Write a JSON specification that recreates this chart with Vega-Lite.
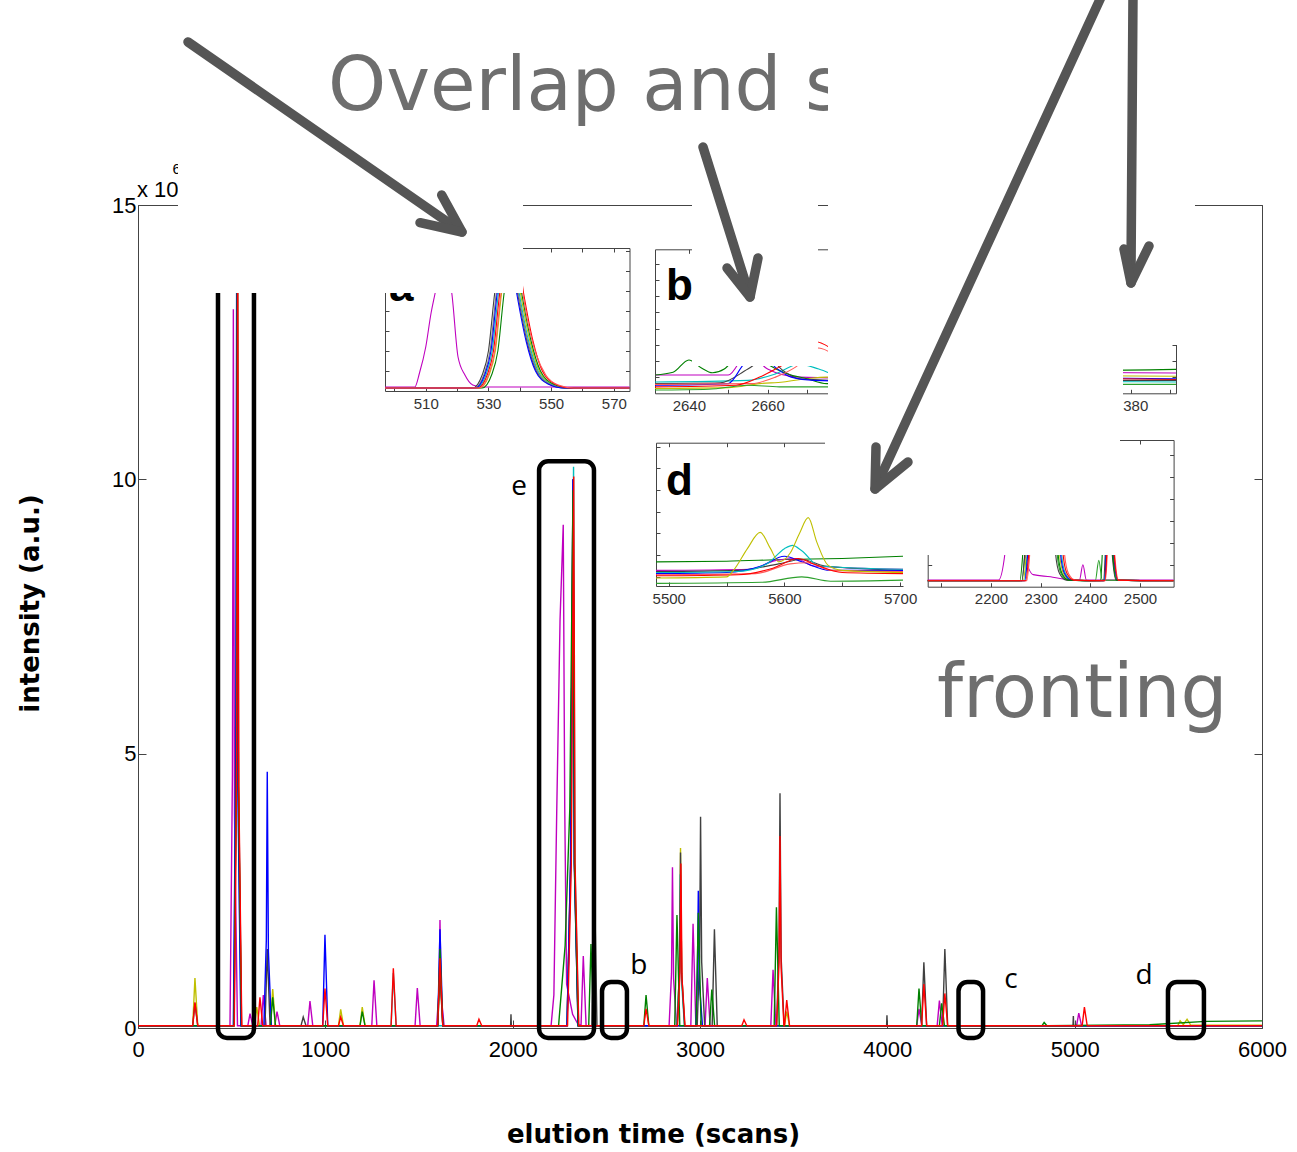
{
"$schema": "https://vega.github.io/schema/vega-lite/v6.json",
"width": 1124, "height": 823,
"autosize": {"type": "none"},
"padding": {"left": 138, "top": 205, "right": 35, "bottom": 124},
"background": "white",
"config": {"view": {"stroke": null}, "font": "Liberation Sans", "axis": {"grid": false, "labelFont": "Liberation Sans", "labelFlush": false, "labelOverlap": false}},
"datasets": {
"main": [
{"s":"m","x":0,"v":0.04},{"s":"m","x":491,"v":0.04},{"s":"m","x":504,"v":4.6},{"s":"m","x":509,"v":13.1},{"s":"m","x":515,"v":3.9},{"s":"m","x":531,"v":0.04},{"s":"m","x":586,"v":0.04},{"s":"m","x":598,"v":0.26},{"s":"m","x":613,"v":0.04},{"s":"m","x":657,"v":0.04},{"s":"m","x":669,"v":0.6},{"s":"m","x":684,"v":0.04},{"s":"m","x":730,"v":0.04},{"s":"m","x":742,"v":0.3},{"s":"m","x":757,"v":0.04},{"s":"m","x":906,"v":0.04},{"s":"m","x":918,"v":0.49},{"s":"m","x":933,"v":0.04},{"s":"m","x":1248,"v":0.04},{"s":"m","x":1260,"v":0.87},{"s":"m","x":1275,"v":0.04},{"s":"m","x":1479,"v":0.04},{"s":"m","x":1491,"v":0.73},{"s":"m","x":1506,"v":0.04},{"s":"m","x":1594,"v":0.04},{"s":"m","x":1607,"v":0.7},{"s":"m","x":1612,"v":1.97},{"s":"m","x":1618,"v":0.6},{"s":"m","x":1634,"v":0.04},{"s":"m","x":2205,"v":0.04},{"s":"m","x":2220,"v":0.6},{"s":"m","x":2235,"v":3.9},{"s":"m","x":2253,"v":7.45},{"s":"m","x":2270,"v":9.17},{"s":"m","x":2278,"v":4.0},{"s":"m","x":2288,"v":0.8},{"s":"m","x":2320,"v":0.25},{"s":"m","x":2350,"v":0.06},{"s":"m","x":2365,"v":0.05},{"s":"m","x":2377,"v":1.31},{"s":"m","x":2392,"v":0.04},{"s":"m","x":2835,"v":0.04},{"s":"m","x":2848,"v":1.0},{"s":"m","x":2853,"v":2.93},{"s":"m","x":2859,"v":0.9},{"s":"m","x":2875,"v":0.04},{"s":"m","x":2951,"v":0.04},{"s":"m","x":2963,"v":1.9},{"s":"m","x":2978,"v":0.04},{"s":"m","x":3027,"v":0.04},{"s":"m","x":3039,"v":0.91},{"s":"m","x":3054,"v":0.04},{"s":"m","x":3378,"v":0.04},{"s":"m","x":3390,"v":1.06},{"s":"m","x":3405,"v":0.04},{"s":"m","x":4157,"v":0.04},{"s":"m","x":4169,"v":0.35},{"s":"m","x":4184,"v":0.04},{"s":"m","x":4266,"v":0.04},{"s":"m","x":4278,"v":0.5},{"s":"m","x":4293,"v":0.04},{"s":"m","x":5010,"v":0.04},{"s":"m","x":5022,"v":0.27},{"s":"m","x":5037,"v":0.04},{"s":"m","x":6000,"v":0.04},
{"s":"y","x":0,"v":0.04},{"s":"y","x":292,"v":0.04},{"s":"y","x":304,"v":0.91},{"s":"y","x":319,"v":0.04},{"s":"y","x":512,"v":0.04},{"s":"y","x":525,"v":5},{"s":"y","x":530,"v":14.5},{"s":"y","x":536,"v":4.4},{"s":"y","x":552,"v":0.04},{"s":"y","x":622,"v":0.04},{"s":"y","x":634,"v":0.38},{"s":"y","x":649,"v":0.04},{"s":"y","x":707,"v":0.04},{"s":"y","x":719,"v":0.71},{"s":"y","x":734,"v":0.04},{"s":"y","x":1070,"v":0.04},{"s":"y","x":1082,"v":0.34},{"s":"y","x":1097,"v":0.04},{"s":"y","x":1185,"v":0.04},{"s":"y","x":1197,"v":0.38},{"s":"y","x":1212,"v":0.04},{"s":"y","x":1600,"v":0.04},{"s":"y","x":1612,"v":1.0},{"s":"y","x":1627,"v":0.04},{"s":"y","x":2290,"v":0.04},{"s":"y","x":2310,"v":3.0},{"s":"y","x":2323,"v":10.0},{"s":"y","x":2330,"v":3.0},{"s":"y","x":2350,"v":0.04},{"s":"y","x":2878,"v":0.04},{"s":"y","x":2891,"v":1.1},{"s":"y","x":2896,"v":3.28},{"s":"y","x":2902,"v":1.0},{"s":"y","x":2918,"v":0.04},{"s":"y","x":3451,"v":0.04},{"s":"y","x":3463,"v":0.3},{"s":"y","x":3478,"v":0.04},{"s":"y","x":5550,"v":0.04},{"s":"y","x":5563,"v":0.13},{"s":"y","x":5580,"v":0.06},{"s":"y","x":5600,"v":0.16},{"s":"y","x":5620,"v":0.05},{"s":"y","x":6000,"v":0.05},
{"s":"c","x":0,"v":0.04},{"s":"c","x":510,"v":0.04},{"s":"c","x":523,"v":5},{"s":"c","x":528,"v":14.5},{"s":"c","x":534,"v":4.4},{"s":"c","x":550,"v":0.04},{"s":"c","x":1351,"v":0.04},{"s":"c","x":1363,"v":1.0},{"s":"c","x":1378,"v":0.04},{"s":"c","x":2290,"v":0.04},{"s":"c","x":2312,"v":3.2},{"s":"c","x":2325,"v":10.23},{"s":"c","x":2332,"v":3.0},{"s":"c","x":2352,"v":0.04},{"s":"c","x":2877,"v":0.04},{"s":"c","x":2890,"v":1.0},{"s":"c","x":2895,"v":2.8},{"s":"c","x":2901,"v":0.9},{"s":"c","x":2917,"v":0.04},{"s":"c","x":6000,"v":0.04},
{"s":"k","x":0,"v":0.04},{"s":"k","x":292,"v":0.04},{"s":"k","x":304,"v":0.45},{"s":"k","x":319,"v":0.04},{"s":"k","x":513,"v":0.04},{"s":"k","x":526,"v":5},{"s":"k","x":531,"v":14.5},{"s":"k","x":537,"v":4.4},{"s":"k","x":553,"v":0.04},{"s":"k","x":678,"v":0.04},{"s":"k","x":690,"v":1.44},{"s":"k","x":705,"v":0.04},{"s":"k","x":870,"v":0.04},{"s":"k","x":882,"v":0.2},{"s":"k","x":897,"v":0.04},{"s":"k","x":1600,"v":0.04},{"s":"k","x":1612,"v":1.0},{"s":"k","x":1627,"v":0.04},{"s":"k","x":1989,"v":0.04},{"s":"k","x":1991,"v":0.25},{"s":"k","x":1993,"v":0.04},{"s":"k","x":2290,"v":0.04},{"s":"k","x":2309,"v":3.0},{"s":"k","x":2322,"v":10.0},{"s":"k","x":2329,"v":3.0},{"s":"k","x":2349,"v":0.04},{"s":"k","x":2423,"v":0.04},{"s":"k","x":2435,"v":3.0},{"s":"k","x":2450,"v":0.04},{"s":"k","x":2878,"v":0.04},{"s":"k","x":2891,"v":1.1},{"s":"k","x":2896,"v":3.2},{"s":"k","x":2902,"v":1.0},{"s":"k","x":2918,"v":0.04},{"s":"k","x":2985,"v":0.04},{"s":"k","x":2998,"v":1.3},{"s":"k","x":3003,"v":3.85},{"s":"k","x":3009,"v":1.2},{"s":"k","x":3025,"v":0.04},{"s":"k","x":3065,"v":0.04},{"s":"k","x":3077,"v":1.8},{"s":"k","x":3092,"v":0.04},{"s":"k","x":3409,"v":0.04},{"s":"k","x":3422,"v":1.5},{"s":"k","x":3427,"v":4.28},{"s":"k","x":3433,"v":1.3},{"s":"k","x":3449,"v":0.04},{"s":"k","x":3996,"v":0.04},{"s":"k","x":3998,"v":0.23},{"s":"k","x":4000,"v":0.04},{"s":"k","x":4183,"v":0.04},{"s":"k","x":4195,"v":1.2},{"s":"k","x":4210,"v":0.04},{"s":"k","x":4295,"v":0.04},{"s":"k","x":4307,"v":1.44},{"s":"k","x":4322,"v":0.04},{"s":"k","x":4991,"v":0.04},{"s":"k","x":4993,"v":0.22},{"s":"k","x":4995,"v":0.04},{"s":"k","x":6000,"v":0.04},
{"s":"b","x":0,"v":0.04},{"s":"b","x":509,"v":0.04},{"s":"b","x":522,"v":5},{"s":"b","x":527,"v":14.5},{"s":"b","x":533,"v":4.4},{"s":"b","x":549,"v":0.04},{"s":"b","x":672,"v":0.04},{"s":"b","x":685,"v":1.6},{"s":"b","x":690,"v":4.67},{"s":"b","x":696,"v":1.4},{"s":"b","x":712,"v":0.04},{"s":"b","x":986,"v":0.04},{"s":"b","x":998,"v":1.7},{"s":"b","x":1013,"v":0.04},{"s":"b","x":1600,"v":0.04},{"s":"b","x":1612,"v":1.8},{"s":"b","x":1627,"v":0.04},{"s":"b","x":2290,"v":0.04},{"s":"b","x":2309,"v":3.0},{"s":"b","x":2322,"v":10.0},{"s":"b","x":2329,"v":3.0},{"s":"b","x":2349,"v":0.04},{"s":"b","x":2978,"v":0.04},{"s":"b","x":2986,"v":0.9},{"s":"b","x":2991,"v":2.5},{"s":"b","x":2997,"v":0.8},{"s":"b","x":3013,"v":0.04},{"s":"b","x":6000,"v":0.04},
{"s":"g","x":0,"v":0.04},{"s":"g","x":512,"v":0.04},{"s":"g","x":525,"v":5},{"s":"g","x":530,"v":14.5},{"s":"g","x":536,"v":4.4},{"s":"g","x":552,"v":0.04},{"s":"g","x":707,"v":0.04},{"s":"g","x":719,"v":0.56},{"s":"g","x":734,"v":0.04},{"s":"g","x":1185,"v":0.04},{"s":"g","x":1197,"v":0.3},{"s":"g","x":1212,"v":0.04},{"s":"g","x":1600,"v":0.04},{"s":"g","x":1612,"v":1.44},{"s":"g","x":1627,"v":0.04},{"s":"g","x":2245,"v":0.04},{"s":"g","x":2280,"v":1.5},{"s":"g","x":2305,"v":4.0},{"s":"g","x":2322,"v":9.8},{"s":"g","x":2330,"v":3.0},{"s":"g","x":2350,"v":0.04},{"s":"g","x":2406,"v":0.04},{"s":"g","x":2418,"v":1.53},{"s":"g","x":2433,"v":0.04},{"s":"g","x":2700,"v":0.04},{"s":"g","x":2712,"v":0.6},{"s":"g","x":2727,"v":0.04},{"s":"g","x":2865,"v":0.04},{"s":"g","x":2877,"v":2.06},{"s":"g","x":2892,"v":0.04},{"s":"g","x":2979,"v":0.04},{"s":"g","x":2991,"v":2.1},{"s":"g","x":3006,"v":0.04},{"s":"g","x":3051,"v":0.04},{"s":"g","x":3063,"v":0.7},{"s":"g","x":3078,"v":0.04},{"s":"g","x":3396,"v":0.04},{"s":"g","x":3408,"v":2.2},{"s":"g","x":3423,"v":0.04},{"s":"g","x":4157,"v":0.04},{"s":"g","x":4169,"v":0.72},{"s":"g","x":4184,"v":0.04},{"s":"g","x":4278,"v":0.04},{"s":"g","x":4290,"v":0.45},{"s":"g","x":4305,"v":0.04},{"s":"g","x":4825,"v":0.04},{"s":"g","x":4837,"v":0.1},{"s":"g","x":4852,"v":0.04},{"s":"g","x":5400,"v":0.06},{"s":"g","x":5700,"v":0.12},{"s":"g","x":6000,"v":0.13},
{"s":"r","x":0,"v":0.04},{"s":"r","x":292,"v":0.04},{"s":"r","x":304,"v":0.47},{"s":"r","x":319,"v":0.04},{"s":"r","x":514,"v":0.04},{"s":"r","x":527,"v":5},{"s":"r","x":532,"v":14.5},{"s":"r","x":538,"v":4.4},{"s":"r","x":554,"v":0.04},{"s":"r","x":639,"v":0.04},{"s":"r","x":651,"v":0.56},{"s":"r","x":666,"v":0.04},{"s":"r","x":986,"v":0.04},{"s":"r","x":998,"v":0.72},{"s":"r","x":1013,"v":0.04},{"s":"r","x":1070,"v":0.04},{"s":"r","x":1082,"v":0.2},{"s":"r","x":1097,"v":0.04},{"s":"r","x":1351,"v":0.04},{"s":"r","x":1363,"v":1.09},{"s":"r","x":1378,"v":0.04},{"s":"r","x":1600,"v":0.04},{"s":"r","x":1612,"v":1.27},{"s":"r","x":1627,"v":0.04},{"s":"r","x":1808,"v":0.04},{"s":"r","x":1820,"v":0.16},{"s":"r","x":1835,"v":0.04},{"s":"r","x":2293,"v":0.04},{"s":"r","x":2313,"v":3.0},{"s":"r","x":2326,"v":10.05},{"s":"r","x":2333,"v":3.0},{"s":"r","x":2353,"v":0.04},{"s":"r","x":2700,"v":0.04},{"s":"r","x":2712,"v":0.35},{"s":"r","x":2727,"v":0.04},{"s":"r","x":2880,"v":0.04},{"s":"r","x":2893,"v":1.0},{"s":"r","x":2898,"v":3.0},{"s":"r","x":2904,"v":0.9},{"s":"r","x":2920,"v":0.04},{"s":"r","x":3223,"v":0.04},{"s":"r","x":3235,"v":0.15},{"s":"r","x":3250,"v":0.04},{"s":"r","x":3409,"v":0.04},{"s":"r","x":3422,"v":1.2},{"s":"r","x":3427,"v":3.5},{"s":"r","x":3433,"v":1.1},{"s":"r","x":3448,"v":0.04},{"s":"r","x":3451,"v":0.04},{"s":"r","x":3463,"v":0.51},{"s":"r","x":3478,"v":0.04},{"s":"r","x":4183,"v":0.04},{"s":"r","x":4195,"v":0.8},{"s":"r","x":4210,"v":0.04},{"s":"r","x":4295,"v":0.04},{"s":"r","x":4307,"v":0.63},{"s":"r","x":4322,"v":0.04},{"s":"r","x":5040,"v":0.04},{"s":"r","x":5052,"v":0.38},{"s":"r","x":5067,"v":0.04},{"s":"r","x":6000,"v":0.04}
],
"ia": [
{"s":"m","x":497,"v":0.2},{"s":"m","x":506.5,"v":0.2},{"s":"m","x":508,"v":0.9},{"s":"m","x":510,"v":2.2},{"s":"m","x":511.7,"v":3.9},{"s":"m","x":513,"v":4.9},{"s":"m","x":515,"v":6.5},{"s":"m","x":517,"v":6.0},{"s":"m","x":518.3,"v":4.9},{"s":"m","x":520.3,"v":1.7},{"s":"m","x":522.5,"v":0.8},{"s":"m","x":525,"v":0.3},{"s":"m","x":528,"v":0.2},{"s":"m","x":575,"v":0.2},
{"s":"y","x":497,"v":0.15},{"s":"y","x":527.2,"v":0.15},{"s":"y","x":530.2,"v":0.8},{"s":"y","x":532.2,"v":2},{"s":"y","x":534.2,"v":4.9},{"s":"y","x":536.2,"v":6.8},{"s":"y","x":538.2,"v":6.8},{"s":"y","x":540.2,"v":4.9},{"s":"y","x":543.2,"v":2.5},{"s":"y","x":546.2,"v":1},{"s":"y","x":550.2,"v":0.35},{"s":"y","x":555.2,"v":0.15},{"s":"y","x":575,"v":0.15},
{"s":"g","x":497,"v":0.15},{"s":"g","x":528,"v":0.15},{"s":"g","x":531,"v":0.8},{"s":"g","x":533,"v":2},{"s":"g","x":535,"v":4.9},{"s":"g","x":537,"v":6.8},{"s":"g","x":538.6,"v":6.8},{"s":"g","x":540.6,"v":4.9},{"s":"g","x":543.6,"v":2.5},{"s":"g","x":546.6,"v":1},{"s":"g","x":550.6,"v":0.35},{"s":"g","x":555.6,"v":0.15},{"s":"g","x":575,"v":0.15},
{"s":"c","x":497,"v":0.15},{"s":"c","x":526.2,"v":0.15},{"s":"c","x":529.2,"v":0.8},{"s":"c","x":531.2,"v":2},{"s":"c","x":533.2,"v":4.9},{"s":"c","x":535.2,"v":6.8},{"s":"c","x":537.8,"v":6.8},{"s":"c","x":539.8,"v":4.9},{"s":"c","x":542.8,"v":2.5},{"s":"c","x":545.8,"v":1},{"s":"c","x":549.8,"v":0.35},{"s":"c","x":554.8,"v":0.15},{"s":"c","x":575,"v":0.15},
{"s":"k","x":497,"v":0.15},{"s":"k","x":525,"v":0.15},{"s":"k","x":528,"v":0.8},{"s":"k","x":530,"v":2},{"s":"k","x":532,"v":4.9},{"s":"k","x":534,"v":6.8},{"s":"k","x":537.3,"v":6.8},{"s":"k","x":539.3,"v":4.9},{"s":"k","x":542.3,"v":2.5},{"s":"k","x":545.3,"v":1},{"s":"k","x":549.3,"v":0.35},{"s":"k","x":554.3,"v":0.15},{"s":"k","x":575,"v":0.15},
{"s":"k2","x":497,"v":0.15},{"s":"k2","x":525.5,"v":0.15},{"s":"k2","x":528.5,"v":0.8},{"s":"k2","x":530.5,"v":2},{"s":"k2","x":532.5,"v":4.9},{"s":"k2","x":534.5,"v":6.8},{"s":"k2","x":537.5,"v":6.8},{"s":"k2","x":539.5,"v":4.9},{"s":"k2","x":542.5,"v":2.5},{"s":"k2","x":545.5,"v":1},{"s":"k2","x":549.5,"v":0.35},{"s":"k2","x":554.5,"v":0.15},{"s":"k2","x":575,"v":0.15},
{"s":"b","x":497,"v":0.15},{"s":"b","x":525.8,"v":0.15},{"s":"b","x":528.8,"v":0.8},{"s":"b","x":530.8,"v":2},{"s":"b","x":532.8,"v":4.9},{"s":"b","x":534.8,"v":6.8},{"s":"b","x":537,"v":6.8},{"s":"b","x":539,"v":4.9},{"s":"b","x":542,"v":2.5},{"s":"b","x":545,"v":1},{"s":"b","x":549,"v":0.35},{"s":"b","x":554,"v":0.15},{"s":"b","x":575,"v":0.15},
{"s":"r","x":497,"v":0.15},{"s":"r","x":526.6,"v":0.15},{"s":"r","x":529.6,"v":0.8},{"s":"r","x":531.6,"v":2},{"s":"r","x":533.6,"v":4.9},{"s":"r","x":535.6,"v":6.8},{"s":"r","x":539.2,"v":6.8},{"s":"r","x":541.2,"v":4.9},{"s":"r","x":544.2,"v":2.5},{"s":"r","x":547.2,"v":1},{"s":"r","x":551.2,"v":0.35},{"s":"r","x":556.2,"v":0.15},{"s":"r","x":575,"v":0.15},
{"s":"r2","x":497,"v":0.15},{"s":"r2","x":527,"v":0.15},{"s":"r2","x":530,"v":0.8},{"s":"r2","x":532,"v":2},{"s":"r2","x":534,"v":4.9},{"s":"r2","x":536,"v":6.8},{"s":"r2","x":538.5,"v":6.8},{"s":"r2","x":540.5,"v":5.3},{"s":"r2","x":542.5,"v":3.5},{"s":"r2","x":545.3,"v":1.8},{"s":"r2","x":548.3,"v":0.8},{"s":"r2","x":552.3,"v":0.3},{"s":"r2","x":557.3,"v":0.15},{"s":"r2","x":575,"v":0.15}
],
"ib": [
{"s":"m","x":2631.4,"v":1.13},{"s":"m","x":2650,"v":1.13},{"s":"m","x":2655,"v":2.5},{"s":"m","x":2660,"v":1.5},{"s":"m","x":2668,"v":1.0},{"s":"m","x":2693.9,"v":0.9},
{"s":"y","x":2631.4,"v":0.3},{"s":"y","x":2650,"v":0.35},{"s":"y","x":2658,"v":0.6},{"s":"y","x":2664,"v":0.7},{"s":"y","x":2670,"v":0.9},{"s":"y","x":2675,"v":1.0},{"s":"y","x":2693.9,"v":0.7},
{"s":"g","x":2631.4,"v":1.13},{"s":"g","x":2636,"v":1.3},{"s":"g","x":2640,"v":2.06},{"s":"g","x":2643,"v":1.6},{"s":"g","x":2646,"v":1.27},{"s":"g","x":2649,"v":1.5},{"s":"g","x":2652,"v":2.2},{"s":"g","x":2656,"v":2.5},{"s":"g","x":2660,"v":1.8},{"s":"g","x":2665,"v":1.2},{"s":"g","x":2670,"v":0.9},{"s":"g","x":2675,"v":0.6},{"s":"g","x":2693.9,"v":0.5},
{"s":"c","x":2631.4,"v":0.7},{"s":"c","x":2655,"v":0.8},{"s":"c","x":2662,"v":1.2},{"s":"c","x":2668,"v":1.8},{"s":"c","x":2673,"v":1.5},{"s":"c","x":2680,"v":0.9},{"s":"c","x":2693.9,"v":0.8},
{"s":"k","x":2631.4,"v":0.6},{"s":"k","x":2648,"v":0.65},{"s":"k","x":2655,"v":1.5},{"s":"k","x":2660,"v":2.2},{"s":"k","x":2664,"v":1.4},{"s":"k","x":2668,"v":0.9},{"s":"k","x":2693.9,"v":0.7},
{"s":"g2","x":2631.4,"v":0.2},{"s":"g2","x":2645,"v":0.25},{"s":"g2","x":2655,"v":0.5},{"s":"g2","x":2663,"v":0.4},{"s":"g2","x":2693.9,"v":0.4},
{"s":"b","x":2631.4,"v":0.5},{"s":"b","x":2650,"v":0.6},{"s":"b","x":2654,"v":1.8},{"s":"b","x":2658,"v":2.4},{"s":"b","x":2662,"v":1.6},{"s":"b","x":2666,"v":1.0},{"s":"b","x":2672,"v":0.8},{"s":"b","x":2693.9,"v":0.7},
{"s":"r2","x":2631.4,"v":0.55},{"s":"r2","x":2656,"v":0.6},{"s":"r2","x":2662,"v":1.0},{"s":"r2","x":2667,"v":1.6},{"s":"r2","x":2673,"v":2.8},{"s":"r2","x":2678,"v":2.2},{"s":"r2","x":2685,"v":1.0},{"s":"r2","x":2693.9,"v":0.6},
{"s":"r","x":2631.4,"v":0.4},{"s":"r","x":2652,"v":0.5},{"s":"r","x":2658,"v":1.0},{"s":"r","x":2662,"v":1.5},{"s":"r","x":2667,"v":2.2},{"s":"r","x":2672,"v":3.2},{"s":"r","x":2676,"v":2.8},{"s":"r","x":2682,"v":1.5},{"s":"r","x":2693.9,"v":0.6}
],
"ic": [
{"s":"g","x":4329,"v":1.45},{"s":"g","x":4350,"v":1.5},{"s":"g","x":4370,"v":1.42},{"s":"g","x":4391.4,"v":1.48},
{"s":"m","x":4329,"v":1.25},{"s":"m","x":4360,"v":1.3},{"s":"m","x":4391.4,"v":1.25},
{"s":"y","x":4329,"v":1.05},{"s":"y","x":4360,"v":1.1},{"s":"y","x":4391.4,"v":1.05},
{"s":"b","x":4329,"v":0.92},{"s":"b","x":4370,"v":0.95},{"s":"b","x":4391.4,"v":0.9},
{"s":"r","x":4329,"v":0.85},{"s":"r","x":4375,"v":0.9},{"s":"r","x":4391.4,"v":0.85},
{"s":"k","x":4329,"v":0.8},{"s":"k","x":4391.4,"v":0.8},
{"s":"c","x":4329,"v":0.7},{"s":"c","x":4365,"v":0.72},{"s":"c","x":4391.4,"v":0.7},
{"s":"g2","x":4329,"v":0.55},{"s":"g2","x":4391.4,"v":0.55}
],
"id": [
{"s":"g","x":5489,"v":0.69},{"s":"g","x":5550,"v":0.72},{"s":"g","x":5600,"v":0.8},{"s":"g","x":5650,"v":0.85},{"s":"g","x":5702.5,"v":0.95},
{"s":"m","x":5489,"v":0.3},{"s":"m","x":5570,"v":0.35},{"s":"m","x":5592,"v":0.75},{"s":"m","x":5610,"v":0.85},{"s":"m","x":5625,"v":0.5},{"s":"m","x":5702.5,"v":0.35},
{"s":"k","x":5489,"v":0.25},{"s":"k","x":5560,"v":0.3},{"s":"k","x":5595,"v":0.6},{"s":"k","x":5615,"v":0.8},{"s":"k","x":5635,"v":0.5},{"s":"k","x":5702.5,"v":0.3},
{"s":"b","x":5489,"v":0.15},{"s":"b","x":5550,"v":0.2},{"s":"b","x":5580,"v":0.5},{"s":"b","x":5600,"v":0.95},{"s":"b","x":5615,"v":0.7},{"s":"b","x":5640,"v":0.3},{"s":"b","x":5702.5,"v":0.3},
{"s":"c","x":5489,"v":0.2},{"s":"c","x":5560,"v":0.25},{"s":"c","x":5585,"v":0.6},{"s":"c","x":5600,"v":1.3},{"s":"c","x":5607,"v":1.45},{"s":"c","x":5615,"v":1.2},{"s":"c","x":5630,"v":0.5},{"s":"c","x":5702.5,"v":0.35},
{"s":"r2","x":5489,"v":0.1},{"s":"r2","x":5575,"v":0.15},{"s":"r2","x":5605,"v":0.6},{"s":"r2","x":5620,"v":0.65},{"s":"r2","x":5640,"v":0.3},{"s":"r2","x":5702.5,"v":0.25},
{"s":"r","x":5489,"v":0.05},{"s":"r","x":5560,"v":0.1},{"s":"r","x":5590,"v":0.4},{"s":"r","x":5612,"v":0.85},{"s":"r","x":5625,"v":0.6},{"s":"r","x":5650,"v":0.2},{"s":"r","x":5702.5,"v":0.15},
{"s":"g2","x":5489,"v":-0.3},{"s":"g2","x":5580,"v":-0.25},{"s":"g2","x":5615,"v":0},{"s":"g2","x":5640,"v":-0.2},{"s":"g2","x":5702.5,"v":-0.15},
{"s":"y","x":5489,"v":-0.05},{"s":"y","x":5550,"v":0},{"s":"y","x":5556,"v":0.3},{"s":"y","x":5568,"v":1.3},{"s":"y","x":5579,"v":2.05},{"s":"y","x":5588,"v":1.3},{"s":"y","x":5595,"v":0.69},{"s":"y","x":5605,"v":1.1},{"s":"y","x":5613,"v":2.0},{"s":"y","x":5620.6,"v":2.73},{"s":"y","x":5628,"v":1.6},{"s":"y","x":5637.6,"v":0.54},{"s":"y","x":5650,"v":0.3},{"s":"y","x":5702.5,"v":0.2}
],
"ie": [
{"s":"m","x":2072.6,"v":0.3},{"s":"m","x":2215,"v":0.3},{"s":"m","x":2228,"v":1.5},{"s":"m","x":2240,"v":6},{"s":"m","x":2255,"v":6},{"s":"m","x":2268,"v":1.5},{"s":"m","x":2285,"v":0.55},{"s":"m","x":2320,"v":0.45},{"s":"m","x":2345,"v":0.35},{"s":"m","x":2378,"v":0.3},{"s":"m","x":2385,"v":1.0},{"s":"m","x":2392,"v":0.3},{"s":"m","x":2567.6,"v":0.3},
{"s":"g2","x":2072.6,"v":0.27},{"s":"g2","x":2262,"v":0.27},{"s":"g2","x":2268,"v":1.5},{"s":"g2","x":2278,"v":6},{"s":"g2","x":2323,"v":6},{"s":"g2","x":2333,"v":1.5},{"s":"g2","x":2341,"v":0.6},{"s":"g2","x":2355,"v":0.3},{"s":"g2","x":2410,"v":0.27},{"s":"g2","x":2417,"v":1.2},{"s":"g2","x":2424,"v":0.3},{"s":"g2","x":2567.6,"v":0.27},
{"s":"y","x":2072.6,"v":0.27},{"s":"y","x":2265,"v":0.27},{"s":"y","x":2271,"v":1.5},{"s":"y","x":2281,"v":6},{"s":"y","x":2328,"v":6},{"s":"y","x":2338,"v":1.5},{"s":"y","x":2346,"v":0.6},{"s":"y","x":2360,"v":0.3},{"s":"y","x":2428,"v":0.27},{"s":"y","x":2432,"v":1.5},{"s":"y","x":2437,"v":6},{"s":"y","x":2443,"v":6},{"s":"y","x":2447,"v":1.5},{"s":"y","x":2455,"v":0.3},{"s":"y","x":2567.6,"v":0.27},
{"s":"c","x":2072.6,"v":0.27},{"s":"c","x":2267,"v":0.27},{"s":"c","x":2273,"v":1.5},{"s":"c","x":2283,"v":6},{"s":"c","x":2332,"v":6},{"s":"c","x":2342,"v":1.5},{"s":"c","x":2350,"v":0.6},{"s":"c","x":2364,"v":0.3},{"s":"c","x":2427,"v":0.27},{"s":"c","x":2431,"v":1.5},{"s":"c","x":2436,"v":6},{"s":"c","x":2442,"v":6},{"s":"c","x":2446,"v":1.5},{"s":"c","x":2454,"v":0.3},{"s":"c","x":2567.6,"v":0.27},
{"s":"k","x":2072.6,"v":0.27},{"s":"k","x":2262,"v":0.27},{"s":"k","x":2268,"v":1.5},{"s":"k","x":2278,"v":6},{"s":"k","x":2320,"v":6},{"s":"k","x":2330,"v":1.5},{"s":"k","x":2338,"v":0.6},{"s":"k","x":2352,"v":0.3},{"s":"k","x":2426,"v":0.27},{"s":"k","x":2430,"v":1.5},{"s":"k","x":2435,"v":6},{"s":"k","x":2440,"v":6},{"s":"k","x":2444,"v":1.5},{"s":"k","x":2452,"v":0.3},{"s":"k","x":2567.6,"v":0.27},
{"s":"b","x":2072.6,"v":0.27},{"s":"b","x":2268,"v":0.27},{"s":"b","x":2274,"v":1.5},{"s":"b","x":2284,"v":6},{"s":"b","x":2330,"v":6},{"s":"b","x":2340,"v":1.5},{"s":"b","x":2348,"v":0.6},{"s":"b","x":2362,"v":0.3},{"s":"b","x":2428,"v":0.27},{"s":"b","x":2432,"v":1.5},{"s":"b","x":2437,"v":6},{"s":"b","x":2443,"v":6},{"s":"b","x":2447,"v":1.5},{"s":"b","x":2455,"v":0.3},{"s":"b","x":2567.6,"v":0.27},
{"s":"g","x":2072.6,"v":0.27},{"s":"g","x":2258,"v":0.27},{"s":"g","x":2264,"v":1.5},{"s":"g","x":2274,"v":6},{"s":"g","x":2325,"v":6},{"s":"g","x":2335,"v":1.5},{"s":"g","x":2343,"v":0.6},{"s":"g","x":2357,"v":0.3},{"s":"g","x":2420,"v":0.27},{"s":"g","x":2424,"v":1.5},{"s":"g","x":2429,"v":6},{"s":"g","x":2441,"v":6},{"s":"g","x":2445,"v":1.5},{"s":"g","x":2453,"v":0.3},{"s":"g","x":2567.6,"v":0.27},
{"s":"r2","x":2072.6,"v":0.27},{"s":"r2","x":2272,"v":0.27},{"s":"r2","x":2278,"v":1.5},{"s":"r2","x":2288,"v":6},{"s":"r2","x":2338,"v":6},{"s":"r2","x":2348,"v":1.5},{"s":"r2","x":2356,"v":0.6},{"s":"r2","x":2370,"v":0.3},{"s":"r2","x":2430,"v":0.27},{"s":"r2","x":2434,"v":1.5},{"s":"r2","x":2439,"v":6},{"s":"r2","x":2445,"v":6},{"s":"r2","x":2449,"v":1.5},{"s":"r2","x":2457,"v":0.3},{"s":"r2","x":2567.6,"v":0.27},
{"s":"r","x":2072.6,"v":0.27},{"s":"r","x":2270,"v":0.27},{"s":"r","x":2276,"v":1.5},{"s":"r","x":2286,"v":6},{"s":"r","x":2335,"v":6},{"s":"r","x":2345,"v":1.5},{"s":"r","x":2353,"v":0.6},{"s":"r","x":2367,"v":0.3},{"s":"r","x":2429,"v":0.27},{"s":"r","x":2433,"v":1.5},{"s":"r","x":2438,"v":6},{"s":"r","x":2444,"v":6},{"s":"r","x":2448,"v":1.5},{"s":"r","x":2456,"v":0.3},{"s":"r","x":2567.6,"v":0.27}
]
},
"resolve": {"scale": {"x": "independent", "y": "independent"}, "axis": {"x": "independent", "y": "independent"}},
"layer": [
{
"data": {"name": "main"},
"mark": {"type": "line", "strokeWidth": 1.4},
"encoding": {
"x": {"field": "x", "type": "quantitative", "scale": {"domain": [0, 6000], "nice": false, "zero": false},
 "axis": {"orient": "bottom", "values": [0,1000,2000,3000,4000,5000,6000], "format": "d", "tickSize": -8, "labelPadding": 19, "labelFontSize": 22, "labelColor": "#000", "domainColor": "#444", "tickColor": "#444",
 "title": "elution time (scans)", "titleFont": "DejaVu Sans", "titleFontSize": 26, "titleFontWeight": "bold", "titleColor": "#000", "titleX": 515, "titleY": 106, "titleAlign": "center", "titleBaseline": "middle"}},
"y": {"field": "v", "type": "quantitative", "scale": {"domain": [0, 15], "nice": false, "zero": false},
 "axis": {"orient": "left", "values": [0,5,10,15], "format": "d", "tickSize": -8, "labelPadding": 10, "labelFontSize": 22, "labelColor": "#000", "domainColor": "#444", "tickColor": "#444",
 "title": "intensity (a.u.)", "titleFont": "DejaVu Sans", "titleFontSize": 26, "titleFontWeight": "bold", "titleColor": "#000", "titleX": -108, "titleY": 398, "titleAlign": "center", "titleBaseline": "middle", "titleAngle": 270}},
"color": {"field": "s", "type": "nominal", "legend": null, "scale": {"domain": ["m","y","c","k","k2","b","g","g2","r","r2"], "range": ["#bf00bf","#bfbf00","#00bfbf","#404040","#808080","#0000ff","#008000","#2ca02c","#ff0000","#ff5a5a"]}}
}
},
{
"data": {"values": [{"x": 0, "v": 0}]},
"mark": {"type": "point", "opacity": 0},
"encoding": {
"x": {"field": "x", "type": "quantitative", "scale": {"domain": [0, 6000], "nice": false, "zero": false}, "axis": {"orient": "top", "values": [0,1000,2000,3000,4000,5000,6000], "labels": false, "tickSize": -8, "domainColor": "#444", "tickColor": "#444", "title": null}},
"y": {"field": "v", "type": "quantitative", "scale": {"domain": [0, 15], "nice": false, "zero": false}, "axis": {"orient": "right", "values": [0,5,10,15], "labels": false, "tickSize": -8, "domainColor": "#444", "tickColor": "#444", "title": null}}
}
},
{
"data": {"values": [
{"x": 427, "x2": 619, "y": -0.18, "y2": 14.8},
{"x": 2141, "x2": 2434, "y": -0.18, "y2": 10.33},
{"x": 2477, "x2": 2610, "y": -0.18, "y2": 0.84},
{"x": 4380, "x2": 4511, "y": -0.18, "y2": 0.84},
{"x": 5498, "x2": 5690, "y": -0.18, "y2": 0.84}
]},
"mark": {"type": "rect", "fill": "white", "fillOpacity": 0, "stroke": "#000", "strokeWidth": 4.5, "cornerRadius": 9},
"encoding": {
"x": {"field": "x", "type": "quantitative", "scale": {"domain": [0, 6000], "nice": false, "zero": false}, "axis": null},
"x2": {"field": "x2"},
"y": {"field": "y", "type": "quantitative", "scale": {"domain": [0, 15], "nice": false, "zero": false}, "axis": null},
"y2": {"field": "y2"}
}
},
{
"data": {"values": [
{"x": 2034, "y": 9.86, "t": "e"},
{"x": 2674, "y": 1.13, "t": "b"},
{"x": 4660, "y": 0.875, "t": "c"},
{"x": 5370, "y": 0.95, "t": "d"}
]},
"mark": {"type": "text", "font": "Open Sans", "fontSize": 28, "color": "#000", "align": "center", "baseline": "middle"},
"encoding": {
"x": {"field": "x", "type": "quantitative", "scale": {"domain": [0, 6000], "nice": false, "zero": false}, "axis": null},
"y": {"field": "y", "type": "quantitative", "scale": {"domain": [0, 15], "nice": false, "zero": false}, "axis": null},
"text": {"field": "t"}
}
},
{
"data": {"values": [
{"x": -6, "y": 15.146, "t": "x 10", "k": "base"},
{"x": 184, "y": 15.565, "t": "6", "k": "sup"}
]},
"mark": {"type": "text", "font": "Liberation Sans", "color": "#000", "align": "left", "baseline": "alphabetic"},
"encoding": {
"x": {"field": "x", "type": "quantitative", "scale": {"domain": [0, 6000], "nice": false, "zero": false}, "axis": null},
"y": {"field": "y", "type": "quantitative", "scale": {"domain": [0, 15], "nice": false, "zero": false}, "axis": null},
"text": {"field": "t"},
"size": {"field": "k", "type": "nominal", "legend": null, "scale": {"domain": ["base", "sup"], "range": [22, 15]}}
}
},
{
"data": {"name": "ia"},
"layer": [
{"mark": {"type": "line", "strokeWidth": 1.1, "interpolate": "monotone"},
 "encoding": {
 "x": {"field": "x", "type": "quantitative", "scale": {"domain": [497, 575], "range": [247, 491.5], "nice": false, "zero": false, "clamp": true},
  "axis": {"orient": "bottom", "offset": -637, "values": [500,510,520,530,540,550,560,570], "labelExpr": "datum.value % 20 == 10 ? datum.label : ''", "format": "d", "tickSize": -4, "labelPadding": 9, "labelFontSize": 15, "labelColor": "#333", "domainColor": "#444", "tickColor": "#444", "title": null}},
 "y": {"field": "v", "type": "quantitative", "scale": {"domain": [0, 7.15], "range": [186, 43], "nice": false, "zero": false, "clamp": true},
  "axis": {"orient": "left", "offset": -247, "values": [1,2,3,4,5,6,7], "labels": false, "tickSize": -4, "domainColor": "#444", "tickColor": "#444", "title": null}},
 "color": {"field": "s", "type": "nominal", "legend": null, "scale": {"domain": ["m","y","c","k","k2","b","g","g2","r","r2"], "range": ["#bf00bf","#bfbf00","#00bfbf","#404040","#808080","#0000ff","#008000","#2ca02c","#ff0000","#ff5a5a"]}}
 }},
{"data": {"values": [{"x": 497, "v": 0}]}, "mark": {"type": "point", "opacity": 0},
 "encoding": {
 "x": {"field": "x", "type": "quantitative", "axis": {"orient": "top", "offset": -43, "values": [500,510,520,530,540,550,560,570], "labels": false, "tickSize": -4, "domainColor": "#444", "tickColor": "#444", "title": null}},
 "y": {"field": "v", "type": "quantitative", "axis": {"orient": "right", "offset": -632.5, "values": [1,2,3,4,5,6,7], "labels": false, "tickSize": -4, "domainColor": "#444", "tickColor": "#444", "title": null}}
 }}
],
"resolve": {"axis": {"x": "independent", "y": "independent"}}
},
{
"data": {"name": "ib"},
"layer": [
{"mark": {"type": "line", "strokeWidth": 1.1, "interpolate": "monotone"},
 "encoding": {
 "x": {"field": "x", "type": "quantitative", "scale": {"domain": [2631.4, 2693.9], "range": [517, 763], "nice": false, "zero": false, "clamp": true},
  "axis": {"orient": "bottom", "offset": -634.7, "values": [2640,2650,2660,2670,2680,2690], "labelExpr": "datum.value % 20 == 0 ? datum.label : ''", "format": "d", "tickSize": -4, "labelPadding": 9, "labelFontSize": 15, "labelColor": "#333", "domainColor": "#444", "tickColor": "#444", "title": null}},
 "y": {"field": "v", "type": "quantitative", "scale": {"domain": [0, 8.9], "range": [188.3, 44.3], "nice": false, "zero": false, "clamp": true},
  "axis": {"orient": "left", "offset": -517, "values": [1,2,3,4,5,6,7,8], "labels": false, "tickSize": -4, "domainColor": "#444", "tickColor": "#444", "title": null}},
 "color": {"field": "s", "type": "nominal", "legend": null, "scale": {"domain": ["m","y","c","k","k2","b","g","g2","r","r2"], "range": ["#bf00bf","#bfbf00","#00bfbf","#404040","#808080","#0000ff","#008000","#2ca02c","#ff0000","#ff5a5a"]}}
 }},
{"data": {"values": [{"x": 2631.4, "v": 0}]}, "mark": {"type": "point", "opacity": 0},
 "encoding": {
 "x": {"field": "x", "type": "quantitative", "axis": {"orient": "top", "offset": -44.3, "values": [2640,2650,2660,2670,2680,2690], "labels": false, "tickSize": -4, "domainColor": "#444", "tickColor": "#444", "title": null}},
 "y": {"field": "v", "type": "quantitative", "axis": {"orient": "right", "offset": -361, "values": [1,2,3,4,5,6,7,8], "labels": false, "tickSize": -4, "domainColor": "#444", "tickColor": "#444", "title": null}}
 }}
],
"resolve": {"axis": {"x": "independent", "y": "independent"}}
},
{
"data": {"name": "ic"},
"layer": [
{"mark": {"type": "line", "strokeWidth": 1.1, "interpolate": "monotone"},
 "encoding": {
 "x": {"field": "x", "type": "quantitative", "scale": {"domain": [4329, 4391.4], "range": [792, 1038], "nice": false, "zero": false, "clamp": true},
  "axis": {"orient": "bottom", "offset": -634.7, "values": [4330,4340,4350,4360,4370,4380,4390], "labelExpr": "datum.value % 20 == 0 ? datum.label : ''", "format": "d", "tickSize": -4, "labelPadding": 9, "labelFontSize": 15, "labelColor": "#333", "domainColor": "#444", "tickColor": "#444", "title": null}},
 "y": {"field": "v", "type": "quantitative", "scale": {"domain": [0, 8.9], "range": [188.3, 44.3], "nice": false, "zero": false, "clamp": true},
  "axis": {"orient": "left", "offset": -792, "values": [1,2,3,4,5,6,7,8], "labels": false, "tickSize": -4, "domainColor": "#444", "tickColor": "#444", "title": null}},
 "color": {"field": "s", "type": "nominal", "legend": null, "scale": {"domain": ["m","y","c","k","k2","b","g","g2","r","r2"], "range": ["#bf00bf","#bfbf00","#00bfbf","#404040","#808080","#0000ff","#008000","#2ca02c","#ff0000","#ff5a5a"]}}
 }},
{"data": {"values": [{"x": 4329, "v": 0}]}, "mark": {"type": "point", "opacity": 0},
 "encoding": {
 "x": {"field": "x", "type": "quantitative", "axis": {"orient": "top", "offset": -44.3, "values": [4330,4340,4350,4360,4370,4380,4390], "labels": false, "tickSize": -4, "domainColor": "#444", "tickColor": "#444", "title": null}},
 "y": {"field": "v", "type": "quantitative", "axis": {"orient": "right", "offset": -86, "values": [1,2,3,4,5,6,7,8], "labels": false, "tickSize": -4, "domainColor": "#444", "tickColor": "#444", "title": null}}
 }}
],
"resolve": {"axis": {"x": "independent", "y": "independent"}}
},
{
"data": {"name": "id"},
"layer": [
{"mark": {"type": "line", "strokeWidth": 1.1, "interpolate": "monotone"},
 "encoding": {
 "x": {"field": "x", "type": "quantitative", "scale": {"domain": [5489, 5702.5], "range": [518, 765], "nice": false, "zero": false, "clamp": true},
  "axis": {"orient": "bottom", "offset": -442, "values": [5500,5550,5600,5650,5700], "labelExpr": "datum.value % 100 == 0 ? datum.label : ''", "format": "d", "tickSize": -4, "labelPadding": 9, "labelFontSize": 15, "labelColor": "#333", "domainColor": "#444", "tickColor": "#444", "title": null}},
 "y": {"field": "v", "type": "quantitative", "scale": {"domain": [-0.42, 6.18], "range": [381, 237.7], "nice": false, "zero": false, "clamp": true},
  "axis": {"orient": "left", "offset": -518, "values": [0,1,2,3,4,5,6], "labels": false, "tickSize": -4, "domainColor": "#444", "tickColor": "#444", "title": null}},
 "color": {"field": "s", "type": "nominal", "legend": null, "scale": {"domain": ["m","y","c","k","k2","b","g","g2","r","r2"], "range": ["#bf00bf","#bfbf00","#00bfbf","#404040","#808080","#0000ff","#008000","#2ca02c","#ff0000","#ff5a5a"]}}
 }},
{"data": {"values": [{"x": 5489, "v": 0}]}, "mark": {"type": "point", "opacity": 0},
 "encoding": {
 "x": {"field": "x", "type": "quantitative", "axis": {"orient": "top", "offset": -237.7, "values": [5500,5550,5600,5650,5700], "labels": false, "tickSize": -4, "domainColor": "#444", "tickColor": "#444", "title": null}}
 }}
],
"resolve": {"axis": {"x": "independent", "y": "independent"}}
},
{
"data": {"name": "ie"},
"layer": [
{"mark": {"type": "line", "strokeWidth": 1.1, "interpolate": "monotone"},
 "encoding": {
 "x": {"field": "x", "type": "quantitative", "scale": {"domain": [2072.6, 2567.6], "range": [789.7, 1035.6], "nice": false, "zero": false, "clamp": true},
  "axis": {"orient": "bottom", "offset": -441.3, "values": [2100,2200,2300,2400,2500], "labelExpr": "datum.value >= 2200 ? datum.label : ''", "format": "d", "tickSize": -4, "labelPadding": 9, "labelFontSize": 15, "labelColor": "#333", "domainColor": "#444", "tickColor": "#444", "title": null}},
 "y": {"field": "v", "type": "quantitative", "scale": {"domain": [0, 6.68], "range": [381.7, 235], "nice": false, "zero": false, "clamp": true},
  "axis": {"orient": "left", "offset": -789.7, "values": [1,2,3,4,5,6], "labels": false, "tickSize": -4, "domainColor": "#444", "tickColor": "#444", "title": null}},
 "color": {"field": "s", "type": "nominal", "legend": null, "scale": {"domain": ["m","y","c","k","k2","b","g","g2","r","r2"], "range": ["#bf00bf","#bfbf00","#00bfbf","#404040","#808080","#0000ff","#008000","#2ca02c","#ff0000","#ff5a5a"]}}
 }},
{"data": {"values": [{"x": 2072.6, "v": 0}]}, "mark": {"type": "point", "opacity": 0},
 "encoding": {
 "x": {"field": "x", "type": "quantitative", "axis": {"orient": "top", "offset": -235, "values": [2100,2200,2300,2400,2500], "labels": false, "tickSize": -4, "domainColor": "#444", "tickColor": "#444", "title": null}},
 "y": {"field": "v", "type": "quantitative", "axis": {"orient": "right", "offset": -88.4, "values": [1,2,3,4,5,6], "labels": false, "tickSize": -4, "domainColor": "#444", "tickColor": "#444", "title": null}}
 }}
],
"resolve": {"axis": {"x": "independent", "y": "independent"}}
},
{
"data": {"values": [
{"x": 1340, "y": 13.25, "t": "a"},
{"x": 2818, "y": 13.268, "t": "b"},
{"x": 2818, "y": 9.714, "t": "d"}
]},
"mark": {"type": "text", "font": "Liberation Sans", "fontWeight": "bold", "fontSize": 44, "color": "#000", "align": "left", "baseline": "alphabetic"},
"encoding": {
"x": {"field": "x", "type": "quantitative", "scale": {"domain": [0, 6000], "nice": false, "zero": false}, "axis": null},
"y": {"field": "y", "type": "quantitative", "scale": {"domain": [0, 15], "nice": false, "zero": false}, "axis": null},
"text": {"field": "t"}
}
},
{
"data": {"values": [
{"x": 213.5, "x2": 2055.2, "y": 13.396, "y2": 19.5},
{"x": 2957.3, "x2": 3629.9, "y": 12.066, "y2": 19.5}
]},
"mark": {"type": "rect", "fill": "white", "strokeWidth": 0},
"encoding": {
"x": {"field": "x", "type": "quantitative", "scale": {"domain": [0, 6000], "nice": false, "zero": false}, "axis": null},
"x2": {"field": "x2"},
"y": {"field": "y", "type": "quantitative", "scale": {"domain": [0, 15], "nice": false, "zero": false}, "axis": null},
"y2": {"field": "y2"}
}
},
{
"data": {"values": [{"x": 1014, "y": 16.731, "t": "Overlap and shifting"}]},
"mark": {"type": "text", "font": "DejaVu Sans", "fontSize": 74, "color": "#6e6e6e", "align": "left", "baseline": "alphabetic"},
"encoding": {
"x": {"field": "x", "type": "quantitative", "scale": {"domain": [0, 6000], "nice": false, "zero": false}, "axis": null},
"y": {"field": "y", "type": "quantitative", "scale": {"domain": [0, 15], "nice": false, "zero": false}, "axis": null},
"text": {"field": "t"}
}
},
{
"data": {"values": [
{"x": 3683.3, "x2": 5642.3, "y": 12.448, "y2": 19.5},
{"x": 3683.3, "x2": 5258.0, "y": 10.717, "y2": 12.448},
{"x": 3667.3, "x2": 5242.0, "y": 8.621, "y2": 10.717}
]},
"mark": {"type": "rect", "fill": "white", "strokeWidth": 0},
"encoding": {
"x": {"field": "x", "type": "quantitative", "scale": {"domain": [0, 6000], "nice": false, "zero": false}, "axis": null},
"x2": {"field": "x2"},
"y": {"field": "y", "type": "quantitative", "scale": {"domain": [0, 15], "nice": false, "zero": false}, "axis": null},
"y2": {"field": "y2"}
}
},
{
"data": {"values": [
{"x": 266.9, "y": 17.971, "x2": 1686.0, "y2": 14.612},
{"x": 1729.5, "y": 14.508, "x2": 1621.1, "y2": 15.183},
{"x": 1729.5, "y": 14.508, "x2": 1505.3, "y2": 14.677},
{"x": 3016.0, "y": 16.057, "x2": 3250.9, "y2": 13.496},
{"x": 3266.9, "y": 13.323, "x2": 3309.6, "y2": 14.034},
{"x": 3266.9, "y": 13.323, "x2": 3144.2, "y2": 13.852},
{"x": 5145.9, "y": 18.827, "x2": 3956.6, "y2": 9.990},
{"x": 3934.2, "y": 9.824, "x2": 3939.5, "y2": 10.589},
{"x": 3934.2, "y": 9.824, "x2": 4110.3, "y2": 10.316},
{"x": 5311.4, "y": 18.827, "x2": 5300.7, "y2": 13.760},
{"x": 5300.7, "y": 13.578, "x2": 5396.8, "y2": 14.253},
{"x": 5300.7, "y": 13.578, "x2": 5263.3, "y2": 14.198}
]},
"mark": {"type": "rule", "color": "#555555", "strokeWidth": 9.5, "strokeCap": "round"},
"encoding": {
"x": {"field": "x", "type": "quantitative", "scale": {"domain": [0, 6000], "nice": false, "zero": false}, "axis": null},
"y": {"field": "y", "type": "quantitative", "scale": {"domain": [0, 15], "nice": false, "zero": false}, "axis": null},
"x2": {"field": "x2"},
"y2": {"field": "y2"}
}
},
{
"data": {"values": [{"x": 4265, "y": 5.668, "t": "fronting"}]},
"mark": {"type": "text", "font": "DejaVu Sans", "fontSize": 74, "color": "#6e6e6e", "align": "left", "baseline": "alphabetic"},
"encoding": {
"x": {"field": "x", "type": "quantitative", "scale": {"domain": [0, 6000], "nice": false, "zero": false}, "axis": null},
"y": {"field": "y", "type": "quantitative", "scale": {"domain": [0, 15], "nice": false, "zero": false}, "axis": null},
"text": {"field": "t"}
}
}
]
}
